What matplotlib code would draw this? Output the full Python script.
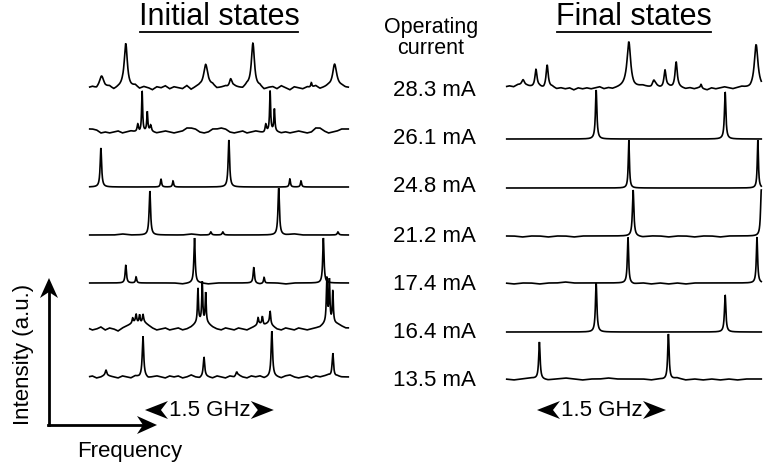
import numpy as np
import matplotlib.pyplot as plt
from matplotlib.patches import Polygon

plt.rcParams['font.family'] = ['Liberation Sans', 'DejaVu Sans']

# ------------------------------
# Spectra: (frequency GHz, height a.u., half width GHz)
# ------------------------------
currents = ["28.3 mA", "26.1 mA", "24.8 mA", "21.2 mA", "17.4 mA", "16.4 mA", "13.5 mA"]

initial_peaks = [
    [(0.16, 10, 0.03), (0.44, 45, 0.022), (1.37, 24, 0.03), (1.66, 10, 0.02),
     (1.92, 45, 0.022), (2.87, 25, 0.03), (2.60, 5, 0.008)],
    [(0.58, 8, 0.01), (0.63, 41, 0.007), (0.69, 19, 0.007), (0.73, 6, 0.01),
     (2.07, 8, 0.01), (2.12, 40, 0.007), (2.17, 22, 0.007)],
    [(0.15, 39, 0.01), (0.85, 8, 0.008), (0.99, 6, 0.008), (1.64, 47, 0.01),
     (2.35, 8, 0.008), (2.48, 6, 0.008)],
    [(0.72, 44, 0.01), (1.43, 3, 0.01), (1.57, 3, 0.01), (2.22, 47, 0.01), (2.91, 3, 0.01)],
    [(0.44, 18, 0.009), (0.56, 6, 0.008), (1.24, 45, 0.009), (1.93, 16, 0.009),
     (2.05, 6, 0.008), (2.74, 45, 0.009)],
    [(0.52, 5, 0.008), (0.56, 8, 0.008), (0.60, 9, 0.008), (0.64, 8, 0.008),
     (1.28, 34, 0.007), (1.33, 40, 0.007), (1.37, 30, 0.007),
     (1.98, 7, 0.008), (2.03, 8, 0.008), (2.12, 13, 0.008),
     (2.78, 44, 0.007), (2.81, 41, 0.007), (2.85, 31, 0.007)],
    [(0.21, 5, 0.01), (0.64, 40, 0.01), (1.35, 19, 0.01), (1.73, 4, 0.01),
     (2.14, 45, 0.01), (2.85, 25, 0.01)],
]

final_peaks = [
    [(0.21, 6, 0.02), (0.36, 18, 0.015), (0.49, 23, 0.015), (1.44, 45, 0.025),
     (1.73, 6, 0.02), (1.86, 18, 0.015), (1.99, 25, 0.015), (2.28, 4, 0.01), (2.92, 43, 0.025)],
    [(1.06, 49, 0.01), (2.56, 47, 0.01)],
    [(1.44, 48, 0.008), (2.94, 48, 0.008)],
    [(1.49, 46, 0.01), (2.98, 46, 0.01)],
    [(1.43, 46, 0.009), (2.93, 46, 0.009)],
    [(1.06, 49, 0.01), (2.56, 37, 0.01)],
    [(0.40, 37, 0.01), (1.90, 46, 0.01)],
]

# baseline wobble, evenly spread over 0..3 GHz (None = clean trace)
initial_noise = [
    [0, 1, -1, 2, 0, 1, -2, 0, 1, -1, 0, 2, -1, 1, 0, -2, 1, 0, 2, -1,
     1, 0, -1, 2, -2, 0, 1, -1, 0, 2, -1, 0, 1, -2, 1, 0, -1, 2, 0, -1,
     1, -2, 0, 1, -1, 2, 0, -2, 1, 0, -1, 1, 0, 2, -1, 0, 1, -2, 0, 1, 0],
    [3, 3, 2, -1, 0, -1, 0, 1, -1, 0, 1, 0, -1, 0, 1, 0, -1, 0, 1, 0,
     -1, 0, 1, 4, 4, 3, 0, -1, 0, 3, 3, 4, 3, 0, -1, 0, 1, -1, 0, 1,
     0, -1, 0, 1, 0, -1, 0, -1, 0, 1, 0, -1, 0, 4, 4, 1, -1, 0, 1, 3, 3],
    None,
    [0, 0, 0, 0, 1, 0, 0, 0, 0, 0, 0, 0, 1, 0, 0, 0, 0, 0, 0, 0, 0, 0, 0, 0, 1, 0, 0, 0, 0, 0, 0],
    [0, 0, 0, 0, 0, 0, 0, 0, 0, 0, 0, -1, 0, 0, -1, 0, 0, 0, 0, 0, -1, 0, 0, -1, 0, 0, 0, 0, 0, 0, 0],
    [1, -1, 0, 2, -1, 1, 0, -2, 1, 3, 5, 7, 5, 7, 4, 1, -1, 0, 1, -1,
     0, 1, -1, 0, 2, 5, 7, 6, 5, 2, 0, -1, 1, 0, -1, 1, 0, -1, 1, 3,
     5, 4, 6, 3, 0, -1, 1, 0, -1, 1, 0, -1, 0, 1, 2, 5, 7, 6, 5, 3, 1],
    [0, 1, -1, 0, 2, 1, 0, -1, 1, 0, -1, 1, 0, 1, -1, 0, 1, 0, -1, 1,
     0, 1, -1, 0, 2, 0, -1, 1, 0, -1, 1, 0, -1, 1, 0, 2, 0, -1, 1, 0,
     1, -1, 0, 1, 0, -1, 1, 2, 0, -1, 0, 1, -1, 1, 0, 1, 2, -1, 1, 0, 0],
]

final_noise = [
    [1, 2, 1, 3, 2, 2, 1, 0, 1, -1, 0, 1, -1, 0, -1, 0, -2, 0, -1, 0,
     -1, 0, 1, -1, 0, -1, 0, 1, 2, 1, 0, 1, 2, 1, 0, 2, 0, -1, 1, 0,
     1, 0, -1, 0, -1, 0, -1, -2, 0, -1, 0, 1, 0, -1, 0, 1, 0, -1, 0, 1, 0],
    None,
    None,
    [0, 0, -1, 0, 0, -1, 0, 0, -1, 0, 0, 0, 0, 0, 0, 0, -1, 0, 0, -1, 0, 0, -1, 0, 0, -1, 0, 0, 0, 0, 0],
    [0, -1, 0, 0, -1, 0, 0, 1, 0, 0, 0, 0, 0, 0, 0, -1, 0, -1, 0, -1, 0, -1, 0, 0, 0, 0, 0, 0, 0, 0, 0],
    None,
    [0, -1, 0, 1, 0, -1, 0, 1, 0, -1, 0, 0, 1, 0, 0, 0, 0, -1, 0, -1, 1, -1, 0, -1, 0, -1, 0, -1, 0, 0, 0],
]

# trace baselines (axes units = pixels from the bottom)
initial_levels = [378, 334, 279, 231, 183, 137, 89]
final_levels = [378, 327, 278, 230, 183, 134, 87]
label_rows = [91, 139, 187, 237, 285, 332, 381]

W, H = 763, 466
fig = plt.figure(figsize=(W / 100, H / 100), dpi=100)

over = fig.add_axes([0, 0, 1, 1])
over.set_xlim(0, W)
over.set_ylim(H, 0)
over.axis('off')


def draw_panel(rect, span, peaks, noise, levels):
    ax = fig.add_axes(rect)
    ax.set_xlim(0, span)
    ax.set_ylim(0, H)
    ax.axis('off')
    x = np.linspace(0.02, span - 0.02, 2500)
    for pk, nz, lvl in zip(peaks, noise, levels):
        y = np.zeros_like(x)
        for f0, h, w in pk:
            y += h * w ** 2 / ((x - f0) ** 2 + w ** 2)
        if nz is not None:
            y += np.interp(x, np.linspace(0, 3.0, len(nz)), nz)
        ax.plot(x, y + lvl, color='black', lw=1.2, solid_joinstyle='miter')
    return ax


left_ax = draw_panel([88 / W, 0, 262 / W, 1], 3.05, initial_peaks, initial_noise, initial_levels)
right_ax = draw_panel([505 / W, 0, 258 / W, 1], 3.0, final_peaks, final_noise, final_levels)


def barb(tip, d, length=20, half=9, notch=14):
    tx, ty = tip
    dx, dy = d
    nx, ny = -dy, dx
    pts = [(tx, ty),
           (tx - length * dx + half * nx, ty - length * dy + half * ny),
           (tx - notch * dx, ty - notch * dy),
           (tx - length * dx - half * nx, ty - length * dy - half * ny)]
    over.add_patch(Polygon(pts, closed=True, color='black', lw=0))


def to_over(ax, x, y):
    px, py = ax.transData.transform((x, y))
    return px, H - py


# titles with underline
fig.canvas.draw()
renderer = fig.canvas.get_renderer()
for cx, txt in [(219, "Initial states"), (634, "Final states")]:
    t = over.text(cx, 17, txt, fontsize=22, ha='center', va='center')
    bb = t.get_window_extent(renderer)
    over.plot([bb.x0 + 1, bb.x1 - 1], [32, 32], color='black', lw=1.3)

over.text(431, 27, "Operating", fontsize=15.5, ha='center', va='center')
over.text(431, 48, "current", fontsize=15.5, ha='center', va='center')
for lab, yy in zip(currents, label_rows):
    over.text(434, yy, lab, fontsize=16, ha='center', va='center')

# 1.5 GHz scale markers
for ax, f0 in [(left_ax, 0.663), (right_ax, 0.372)]:
    x0, y0 = to_over(ax, f0, 56)
    x1, _ = to_over(ax, f0 + 1.5, 56)
    barb((x0, y0), (-1, 0), length=23, half=9, notch=16)
    barb((x1, y0), (1, 0), length=23, half=9, notch=16)
    over.text((x0 + x1) / 2, y0, "1.5 GHz", fontsize=16, ha='center', va='center')

# intensity / frequency axes
over.plot([49, 49], [425, 292], color='black', lw=2)
over.plot([48, 143], [425, 425], color='black', lw=2)
barb((49, 278), (0, -1))
barb((157, 425), (1, 0))
over.text(24, 354, "Intensity (a.u.)", fontsize=16, rotation=90, ha='center', va='center')
over.text(130, 452, "Frequency", fontsize=16, ha='center', va='center')

fig.savefig("out.png", dpi=100)
